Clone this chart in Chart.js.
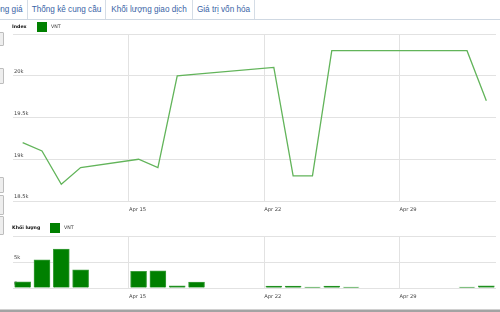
<!DOCTYPE html>
<html>
<head>
<meta charset="utf-8">
<script src="https://cdn.jsdelivr.net/npm/chart.js@4.4.1/dist/chart.umd.min.js"></script>
<style>
html, body { margin:0; padding:0; background:#fff; }
body { width:500px; height:312px; position:relative; overflow:hidden; font-family:"Liberation Sans", Arial, sans-serif; }
.tabs { position:absolute; left:0; top:0; width:500px; height:19px; border-bottom:1px solid #cfd8e2; }
.tab { position:absolute; top:0; height:19px; line-height:19px; font-size:8.2px; color:#3a64a6; text-align:center; border-right:1px solid #d5dde6; white-space:nowrap; }
.side { position:absolute; left:-8px; width:10px; border:1px solid #bdbdbd; background:#eee; border-radius:1px; }
canvas { position:absolute; left:0; }
#priceChart { top:20px; }
#volChart { top:218px; }
.foot { position:absolute; left:0; top:309px; width:500px; height:3px; background:#a3a3a3; border-top:1px solid #d0d0d0; }
</style>
</head>
<body>
<div class="tabs">
  <div class="tab" style="left:-32px;width:59px">Biến động giá</div>
  <div class="tab" style="left:28px;width:77px">Thống kê cung cầu</div>
  <div class="tab" style="left:106px;width:86px">Khối lượng giao dịch</div>
  <div class="tab" style="left:193px;width:61px">Giá trị vốn hóa</div>
</div>
<div class="side" style="top:32px;height:12px"></div>
<div class="side" style="top:68px;height:14px"></div>
<div class="side" style="top:177px;height:14px"></div>
<div class="side" style="top:195px;height:18px"></div>
<div class="side" style="top:216px;height:17px"></div>
<canvas id="priceChart" width="500" height="198"></canvas>
<canvas id="volChart" width="500" height="87"></canvas>
<div class="foot"></div>
<script>
// ─── VNT: giá & khối lượng ───────────────────────────────────────────────────
// ngày giao dịch, tính theo ngày của tháng 4 (32 = 2/5, 33 = 3/5)
const tradeDays  = [9, 10, 11, 12, 15, 16, 17, 18, 22, 23, 24, 25, 26, 32, 33];
const priceVNT   = [19200, 19100, 18700, 18900, 19000, 18900, 20000, 20020, 20100, 18800, 18800, 20300, 20300, 20300, 19700];
const volumeVNT  = [1200, 5400, 7500, 3500, 3200, 3300, 400, 1150, 350, 350, 200, 350, 200, 200, 400];
const dayMin = 9, dayMax = 34;
const weekTicks  = [15, 22, 29];
const weekLabels = ['Apr 15', 'Apr 22', 'Apr 29'];
const priceTicks = [18500, 19000, 19500, 20000, 20500];
const volTicks   = [0, 5000, 10000];

const GREEN = '#008000';
const tickFont = { family:'DejaVu Sans', size:5.2 };
const fmtK = v => v === 0 ? '0' : (v / 1000) + 'k';
const midDay = d => d + 0.5;   // điểm nằm giữa ngày

function dayAxis() {
  return {
    type: 'linear', min: dayMin, max: dayMax, offset: false,
    afterBuildTicks: s => { s.ticks = weekTicks.map(v => ({ value: v })); },
    afterFit: s => { s.height = 17; },
    grid: { color: '#e2e2e2', drawTicks: false, offset: false },
    border: { display: false },
    ticks: { align: 'start', padding: 6, color: '#444', font: tickFont,
             callback: v => weekLabels[weekTicks.indexOf(v)] }
  };
}

function valueAxis(ticks) {
  const top = ticks[ticks.length - 1];
  return {
    min: ticks[0], max: top,
    afterBuildTicks: s => { s.ticks = ticks.map(v => ({ value: v })); },
    afterFit: s => { s.width = 0; },
    grid: { color: '#e2e2e2', drawTicks: false },
    border: { display: false },
    ticks: { mirror: true, padding: 1, labelOffset: -4, color: '#444', font: tickFont,
             callback: v => v === top ? '' : fmtK(v) }
  };
}

// chú thích kiểu "Index ■ VNT"
const sideLegend = {
  id: 'sideLegend',
  afterDraw(chart, args, o) {
    const c = chart.ctx;
    c.save();
    c.textBaseline = 'middle';
    c.font = 'bold 4.7px "DejaVu Sans"';
    c.fillStyle = '#111';
    c.fillText(o.title, 12, o.y);
    c.fillStyle = GREEN;
    c.fillRect(o.boxX, o.y - 5, 10, 10);
    c.font = '4.7px "DejaVu Sans"';
    c.fillStyle = '#333';
    c.fillText(chart.data.datasets[0].label, o.boxX + 14, o.y);
    c.restore();
  }
};

new Chart(document.getElementById('priceChart'), {
  type: 'line',
  data: {
    datasets: [{
      label: 'VNT',
      data: tradeDays.map((d, i) => ({ x: midDay(d), y: priceVNT[i] })),
      borderColor: '#62b45a', borderWidth: 1.3, pointRadius: 0, tension: 0, fill: false
    }]
  },
  options: {
    responsive: false, animation: false,
    layout: { padding: { top: 14, left: 13, right: 4, bottom: 0 } },
    plugins: { legend: { display: false }, tooltip: { enabled: false },
               sideLegend: { title: 'Index', y: 7, boxX: 37 } },
    scales: { x: dayAxis(), y: valueAxis(priceTicks) }
  },
  plugins: [sideLegend]
});

new Chart(document.getElementById('volChart'), {
  type: 'bar',
  data: {
    datasets: [{
      label: 'VNT',
      data: tradeDays.map((d, i) => ({ x: midDay(d), y: volumeVNT[i] })),
      backgroundColor: GREEN, borderColor: '#3c9e3c', borderWidth: 1, barThickness: 16
    }]
  },
  options: {
    responsive: false, animation: false,
    layout: { padding: { top: 18, left: 13, right: 4, bottom: 0 } },
    plugins: { legend: { display: false }, tooltip: { enabled: false },
               sideLegend: { title: 'Khối lượng', y: 10, boxX: 50 } },
    scales: { x: dayAxis(), y: valueAxis(volTicks) }
  },
  plugins: [sideLegend]
});
</script>
</body>
</html>
